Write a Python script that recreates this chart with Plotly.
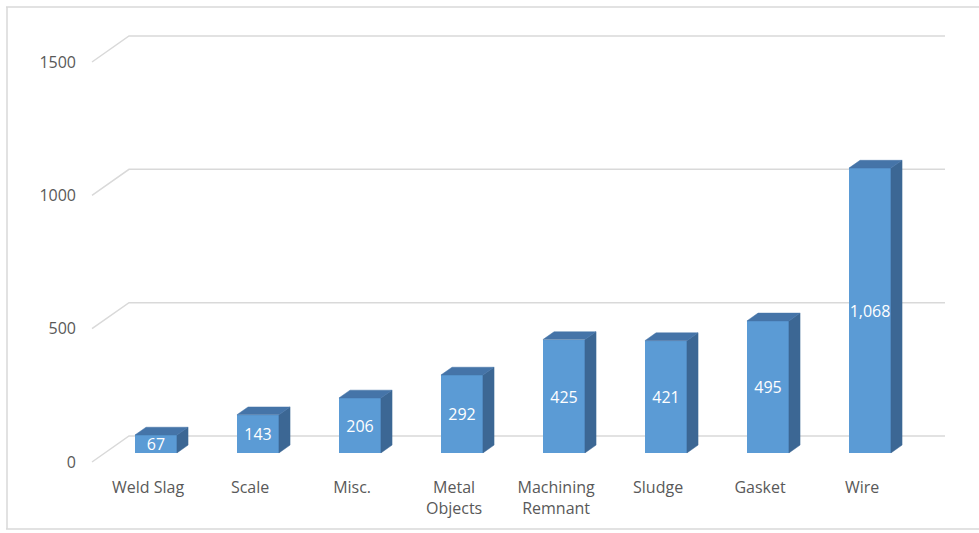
import plotly.graph_objects as go

# ---- data ----
categories = ["Weld Slag", "Scale", "Misc.", "Metal<br>Objects", "Machining<br>Remnant",
              "Sludge", "Gasket", "Wire"]
values = [67, 143, 206, 292, 425, 421, 495, 1068]
y_ticks = [0, 500, 1000, 1500]
y_ticktext = ["0", "500", "1000", "1500"]

# ---- layout geometry ----
W, H = 979, 533
ML, MR, MT, MB = 85, 19, 20, 63
plot_w = W - ML - MR
plot_h = H - MT - MB
PX_PER_CAT = 102.0
PX_PER_VAL = 400.0 / 1500.0
FRONT_FIRST_PX = 143          # pixel of first category centre on the front plane
FRONT_ZERO_PX = 462           # pixel of value 0 on the front plane

x0 = -(FRONT_FIRST_PX - ML) / PX_PER_CAT
x1 = x0 + plot_w / PX_PER_CAT
y1 = (FRONT_ZERO_PX - MT) / PX_PER_VAL
y0 = y1 - plot_h / PX_PER_VAL

# depth offsets (full floor depth) in data units
DX = 37 / PX_PER_CAT
DY = 26 / PX_PER_VAL
BAR_D0, BAR_D1 = 0.35, 0.65
BAR_W = 42 / PX_PER_CAT

FRONT = "#5B9BD5"
SIDE = "#3C6794"
TOP = "#4574A8"
GRID = "#D9D9D9"
TXT = "#595959"
FONT = "Open Sans"

n = len(values)
xs = list(range(n))
bx = [i + DX * BAR_D0 for i in xs]
base = DY * BAR_D0
ddx = DX * (BAR_D1 - BAR_D0)
ddy = DY * (BAR_D1 - BAR_D0)

fig = go.Figure()

fig.add_trace(go.Bar(
    x=bx, y=values, base=base, width=BAR_W,
    marker=dict(color=FRONT, line=dict(width=0)),
    texttemplate="%{y:,}", textposition="inside", insidetextanchor="middle",
    textangle=0,
    textfont=dict(color="white", size=16, family=FONT),
    showlegend=False, hoverinfo="skip",
))

# side and top faces
sx, sy, tx, ty = [], [], [], []
for xc, v in zip(bx, values):
    xl, xr = xc - BAR_W / 2, xc + BAR_W / 2
    top = base + v
    sx += [xr, xr + ddx, xr + ddx, xr, xr, None]
    sy += [base, base + ddy, top + ddy, top, base, None]
    tx += [xl, xr, xr + ddx, xl + ddx, xl, None]
    ty += [top, top, top + ddy, top + ddy, top, None]

fig.add_trace(go.Scatter(x=sx, y=sy, mode="lines", fill="toself", fillcolor=SIDE,
                         line=dict(width=0.5, color=SIDE), showlegend=False, hoverinfo="skip"))
fig.add_trace(go.Scatter(x=tx, y=ty, mode="lines", fill="toself", fillcolor=TOP,
                         line=dict(width=0.5, color=TOP), showlegend=False, hoverinfo="skip"))

# back wall gridlines with diagonal floor/side edges
shapes = []
fl, fr = -0.5, n - 0.5
for v in y_ticks:
    shapes.append(dict(type="path", xref="x", yref="y", layer="below",
                       path=f"M {fl},{v} L {fl + DX},{v + DY} L {fr + DX},{v + DY}",
                       line=dict(color=GRID, width=1.5)))

# outer frame
def px_x(p):
    return (p - ML) / plot_w

def px_y(p):
    return (H - MB - p) / plot_h

frame_col = "#D9D9D9"
shapes.append(dict(type="line", xref="paper", yref="paper", x0=px_x(7), x1=px_x(7),
                   y0=px_y(7), y1=px_y(529), line=dict(color=frame_col, width=1.5)))
shapes.append(dict(type="line", xref="paper", yref="paper", x0=px_x(6), x1=px_x(985),
                   y0=px_y(7), y1=px_y(7), line=dict(color=frame_col, width=1.5)))
shapes.append(dict(type="line", xref="paper", yref="paper", x0=px_x(6), x1=px_x(985),
                   y0=px_y(529), y1=px_y(529), line=dict(color=frame_col, width=1.5)))

fig.update_layout(
    width=W, height=H,
    margin=dict(l=ML, r=MR, t=MT, b=MB, pad=0),
    paper_bgcolor="white", plot_bgcolor="white",
    shapes=shapes,
    bargap=0,
    uniformtext=dict(minsize=16, mode="show"),
    xaxis=dict(range=[x0, x1], tickvals=[i + 0.05 for i in xs], ticktext=categories,
               showgrid=False, zeroline=False, showline=False, ticks="",
               ticklabelstandoff=6,
               tickfont=dict(family=FONT, size=16, color=TXT), fixedrange=True),
    yaxis=dict(range=[y0, y1], tickvals=y_ticks, ticktext=y_ticktext,
               showgrid=False, zeroline=False, showline=False, ticks="",
               ticklabelstandoff=8,
               tickfont=dict(family=FONT, size=16, color=TXT), fixedrange=True),
    font=dict(family=FONT, color=TXT),
)

fig.write_html("out.html")
